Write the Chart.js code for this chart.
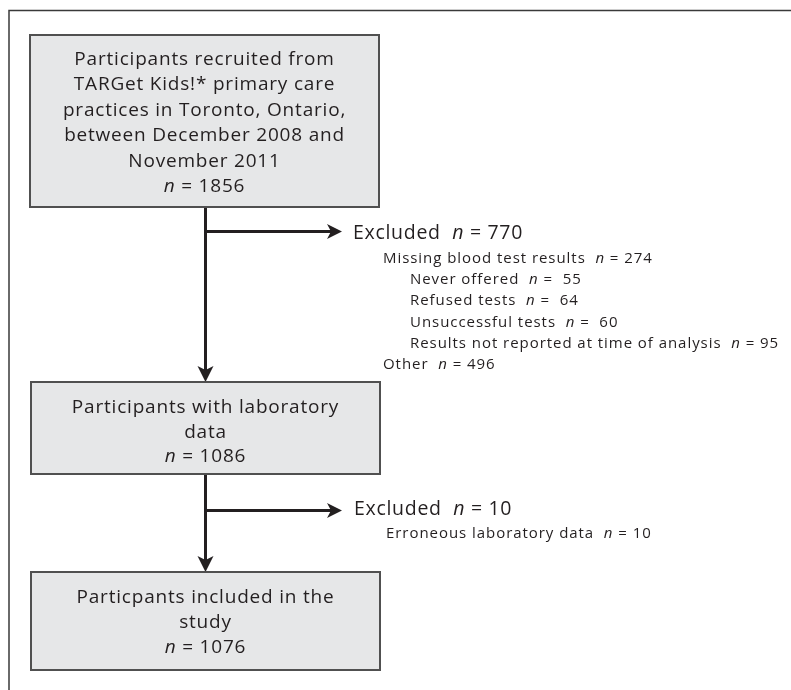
<!DOCTYPE html>
<html>
<head>
<meta charset="utf-8">
<script src="https://cdn.jsdelivr.net/npm/chart.js@4.4.1/dist/chart.umd.min.js"></script>
<style>
  html, body { margin: 0; padding: 0; background: #fff; }
  #wrap { width: 791px; height: 690px; }
</style>
</head>
<body>
<div id="wrap"><canvas id="flow" width="791" height="690"></canvas></div>
<script>
// --- flow data ---
const stageLabels = [
  ['Participants recruited from', 'TARGet Kids!* primary care', 'practices in Toronto, Ontario,', 'between December 2008 and', 'November 2011'],
  ['Participants with laboratory', 'data'],
  ['Particpants included in the', 'study']
];
const stageCounts = [1856, 1086, 1076];
const excludedCounts = [770, 10];

const reasonLabels1 = ['Missing blood test results', 'Never offered', 'Refused tests', 'Unsuccessful tests', 'Results not reported at time of analysis', 'Other'];
const reasonCounts1 = [274, 55, 64, 60, 95, 496];
const reasonLevels1 = [0, 1, 1, 1, 1, 0];
const reasonPad1 = [false, true, true, true, false, false];

const reasonLabels2 = ['Erroneous laboratory data'];
const reasonCounts2 = [10];
const reasonLevels2 = [0];
const reasonPad2 = [false];

// --- layout (in scale units, 1 unit = 1px) ---
const FONT = '"Open Sans", "Noto Sans", sans-serif';
const INK = '#231f20';
const BOX_TXT = { size: 19, spacing: 0.8 };
const HEAD_TXT = { size: 19.5, spacing: 0.7 };
const SUB_TXT = { size: 15, spacing: 0.95 };
const stageBoxes = [
  { x0: 30, x1: 379, y0: 35, y1: 207, first: 65, step: 25.4 },
  { x0: 31, x1: 380, y0: 382, y1: 474, first: 413, step: 24.6 },
  { x0: 31, x1: 380, y0: 572, y1: 670, first: 603, step: 25 }
];
const trunkX = 205.5;
const branches = [
  { y: 231.5, tip: 342, head: 353, top: 239, sub: 263, step: 21.2, indent: 383, indent2: 410 },
  { y: 510.5, tip: 342, head: 354, top: 515, sub: 538, step: 21.2, indent: 386, indent2: 413 }
];

function richParts(label, count, pad) {
  return [{ t: label + '  ' }, { t: 'n', i: true }, { t: ' = ' + (pad ? ' ' : '') + count }];
}

function drawRich(ctx, parts, x, y, style, align) {
  const norm = style.size + 'px ' + FONT;
  const ital = 'italic ' + style.size + 'px ' + FONT;
  ctx.letterSpacing = style.spacing + 'px';
  let total = 0;
  parts.forEach(p => { ctx.font = p.i ? ital : norm; total += ctx.measureText(p.t).width; });
  let cx = align === 'center' ? x - total / 2 : x;
  ctx.textAlign = 'left';
  ctx.textBaseline = 'alphabetic';
  parts.forEach(p => {
    ctx.font = p.i ? ital : norm;
    ctx.fillText(p.t, cx, y);
    cx += ctx.measureText(p.t).width;
  });
  ctx.letterSpacing = '0px';
}

function arrowHead(ctx, x, y, dir) {
  // dir: 'right' or 'down'
  ctx.beginPath();
  if (dir === 'right') {
    ctx.moveTo(x, y);
    ctx.lineTo(x - 15, y - 7.5);
    ctx.lineTo(x - 11, y);
    ctx.lineTo(x - 15, y + 7.5);
  } else {
    ctx.moveTo(x, y);
    ctx.lineTo(x - 8, y - 16);
    ctx.lineTo(x, y - 12);
    ctx.lineTo(x + 8, y - 16);
  }
  ctx.closePath();
  ctx.fill();
}

const flowPlugin = {
  id: 'flow',
  afterDraw(chart) {
    const ctx = chart.ctx;
    const xs = chart.scales.x, ys = chart.scales.y;
    const px = v => xs.getPixelForValue(v);
    const py = v => ys.getPixelForValue(v);
    ctx.save();

    // outer frame (top and left edges)
    ctx.strokeStyle = '#3a3a3a';
    ctx.lineWidth = 1.5;
    ctx.beginPath();
    ctx.moveTo(px(9), py(690));
    ctx.lineTo(px(9), py(10.5));
    ctx.lineTo(px(791), py(10.5));
    ctx.stroke();

    // trunk lines and arrows
    ctx.strokeStyle = INK;
    ctx.fillStyle = INK;
    ctx.lineWidth = 3;
    for (let i = 0; i < stageBoxes.length - 1; i++) {
      const a = stageBoxes[i], b = stageBoxes[i + 1];
      ctx.beginPath();
      ctx.moveTo(px(trunkX), py(a.y1));
      ctx.lineTo(px(trunkX), py(b.y0 - 6));
      ctx.stroke();
      arrowHead(ctx, px(trunkX), py(b.y0), 'down');

      const br = branches[i];
      ctx.beginPath();
      ctx.moveTo(px(trunkX), py(br.y));
      ctx.lineTo(px(br.tip - 6), py(br.y));
      ctx.stroke();
      arrowHead(ctx, px(br.tip), py(br.y), 'right');
    }

    // boxes
    stageBoxes.forEach((b, i) => {
      ctx.fillStyle = '#e6e7e8';
      ctx.fillRect(px(b.x0), py(b.y0), px(b.x1) - px(b.x0), py(b.y1) - py(b.y0));
      ctx.strokeStyle = '#505050';
      ctx.lineWidth = 2;
      ctx.strokeRect(px(b.x0), py(b.y0), px(b.x1) - px(b.x0), py(b.y1) - py(b.y0));
      ctx.fillStyle = INK;
      const cx = px((b.x0 + b.x1) / 2);
      const lines = stageLabels[i];
      lines.forEach((ln, k) => {
        drawRich(ctx, [{ t: ln }], cx, py(b.first + k * b.step), BOX_TXT, 'center');
      });
      drawRich(ctx, [{ t: 'n', i: true }, { t: ' = ' + stageCounts[i] }], cx, py(b.first + lines.length * b.step), BOX_TXT, 'center');
    });

    // exclusion texts
    const reasonSets = [
      [reasonLabels1, reasonCounts1, reasonLevels1, reasonPad1],
      [reasonLabels2, reasonCounts2, reasonLevels2, reasonPad2]
    ];
    ctx.fillStyle = INK;
    branches.forEach((br, i) => {
      drawRich(ctx, richParts('Excluded', excludedCounts[i], false), px(br.head), py(br.top), HEAD_TXT, 'left');
      const [labels, counts, levels, pads] = reasonSets[i];
      labels.forEach((lb, k) => {
        const x = levels[k] ? br.indent2 : br.indent;
        drawRich(ctx, richParts(lb, counts[k], pads[k]), px(x), py(br.sub + k * br.step), SUB_TXT, 'left');
      });
    });

    ctx.restore();
  }
};

new Chart(document.getElementById('flow'), {
  type: 'scatter',
  data: { datasets: [] },
  options: {
    responsive: false,
    animation: false,
    devicePixelRatio: 1,
    layout: { padding: 0 },
    plugins: { legend: { display: false }, tooltip: { enabled: false } },
    scales: {
      x: { type: 'linear', min: 0, max: 791, display: false },
      y: { type: 'linear', min: 0, max: 690, reverse: true, display: false }
    }
  },
  plugins: [flowPlugin]
});
</script>
</body>
</html>
